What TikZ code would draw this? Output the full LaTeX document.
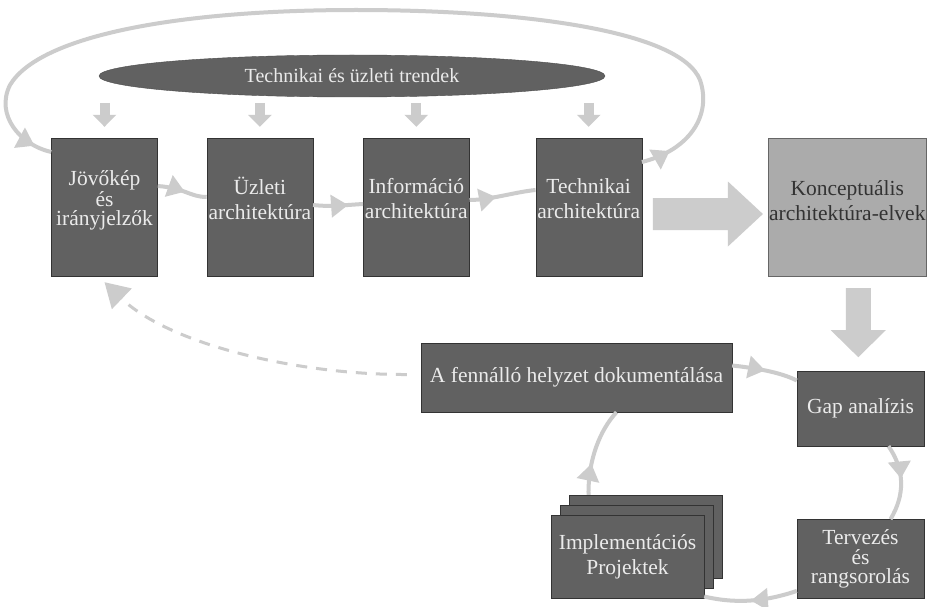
\documentclass[tikz,border=0pt]{standalone}
\usepackage{fontspec}
\setmainfont{Liberation Serif}
\newfontfamily\diagfont{Liberation Serif}
\usetikzlibrary{positioning, calc, arrows.meta, decorations.markings, shapes.geometric}

\begin{document}
\begin{tikzpicture}[
    x=1pt, y=-1pt,
    every node/.style={align=center},
    darkbox/.style={rectangle, minimum width=106pt, minimum height=138pt, inner sep=1pt, text centered, draw=black!80, fill=black!62, text=white!92!black, font=\diagfont\fontsize{21.5}{25}\selectfont},
    lightbox/.style={darkbox, minimum width=158pt, fill=black!33, draw=black!60, text=black!80},
    trend/.style={ellipse, minimum width=506pt, minimum height=42pt, draw=black!70, fill=black!62, text=white!92!black, font=\diagfont\fontsize{20}{22}\selectfont},
    tight/.style={font=\diagfont\fontsize{21.5}{19.5}\selectfont},
    raised/.style={text depth=17pt},
    flow/.style={color=black!20, line width=4pt, postaction={decorate}, decoration={markings, mark=at position #1 with {\arrow{Triangle[length=17pt,width=22pt]}}}},
    flow/.default=0.5,
    loopflow/.style={color=black!20, line width=4pt, postaction={decorate}, decoration={markings, mark=at position 30pt with {\arrow{Triangle[length=17pt,width=22pt]}}, mark=at position -18pt with {\arrow{Triangle[length=17pt,width=22pt]}}}},
    feedback/.style={color=black!20, line width=3pt, dash pattern=on 11pt off 9pt, -{Triangle[length=24pt,width=28pt]}},
    drop/.style={color=black!20, line width=10pt, -{Triangle[length=12pt,width=23pt]}},
    bigarrow/.style={fill=black!20}
]
\fill[white] (0,0) rectangle (931,607);
\useasboundingbox (0,0) rectangle (931,607);

% Trends and architecture row
\node (trends) [trend] at (352,76) {Technikai és üzleti trendek};
\node (jovo) [darkbox, tight, raised] at (104.5,207) {Jövőkép\\és\\irányjelzők};
\node (uzleti) [darkbox, raised, right=49pt of jovo] {Üzleti\\architektúra};
\node (info) [darkbox, raised, right=50pt of uzleti] {Információ\\architektúra};
\node (tech) [darkbox, raised, right=66pt of info] {Technikai\\architektúra};
\node (konc) [lightbox, text depth=12pt, right=126pt of tech] {Konceptuális\\architektúra-elvek};

% Gap cycle
\node (fenn) [darkbox, minimum width=311pt, minimum height=69pt] at (576.5,377.5) {A fennálló helyzet dokumentálása};
\node (gap) [darkbox, minimum width=127pt, minimum height=75pt] at (860.5,408.5) {Gap analízis};
\node (terv) [darkbox, tight, minimum width=127pt, minimum height=79pt, below=73pt of gap] {Tervezés\\és\\rangsorolás};
\node (impl3) [darkbox, minimum width=153pt, minimum height=83pt] at (645.5,536.5) {};
\node (impl2) [darkbox, minimum width=153pt, minimum height=83pt] at (636.5,546.5) {};
\node (impl) [darkbox, minimum width=153pt, minimum height=83pt] at (627.5,556.5) {Implementációs\\Projektek};

% Trend arrows
\foreach \b in {jovo,uzleti,info,tech}
    \draw [drop] ($(\b.north)+(0,-35)$) -- ($(\b.north)+(0,-11)$);

% Big arrows
\fill [bigarrow] ($(tech.east)+(11,-9)$) -- ++(75,0) -- ++(0,-16.5) -- ++(35,32.5)
    -- ++(-35,32.5) -- ++(0,-16.5) -- ++(-75,0) -- cycle;
\fill [bigarrow] ($(konc.south)+(-1.5,12)$) -- ++(0,42) -- ++(-15,0) -- ++(27.5,27)
    -- ++(27.5,-27) -- ++(-15,0) -- ++(0,-42) -- cycle;

% Connectors
\draw [flow=0.55] ($(jovo.east)+(0,-21)$) .. controls (185,188) and (190,197) .. (uzleti.west |- 0,197);
\draw [flow=0.7] ($(uzleti.east)+(0,-2)$) .. controls (330,207) and (345,205) .. (info.west |- 0,204);
\draw [flow=0.4] ($(info.east)+(0,-7)$) .. controls (490,200) and (515,192) .. (tech.west |- 0,190);
\draw [loopflow] ($(tech.east)+(0,-45)$) .. controls (690,150) and (712,115) .. (700,80)
    .. controls (680,30) and (520,10) .. (356,10)
    .. controls (180,10) and (40,35) .. (10,85)
    .. controls (-5,115) and (20,145) .. ($(jovo.west)+(0,-55)$);
\draw [flow=0.5] ($(fenn.east)+(0,-12)$) .. controls (755,368) and (780,372) .. ($(gap.west)+(0,-28)$);
\draw [flow=0.45] ($(gap.south)+(28,0)$) .. controls (905,470) and (905,495) .. ($(terv.north)+(30,0)$);
\draw [flow=0.5] ($(terv.west)+(0,32)$) .. controls (770,600) and (740,605) .. ($(impl.east)+(0,40)$);
\draw [flow=0.35] ($(impl3.north)+(-57,0)$) .. controls (588,460) and (600,430) .. ($(fenn.south)+(40,0)$);
\draw [feedback] ($(fenn.west)+(-14,-3)$) .. controls (300,375) and (170,345) .. ($(jovo.south)+(0,6)$);

\end{tikzpicture}
\end{document}
